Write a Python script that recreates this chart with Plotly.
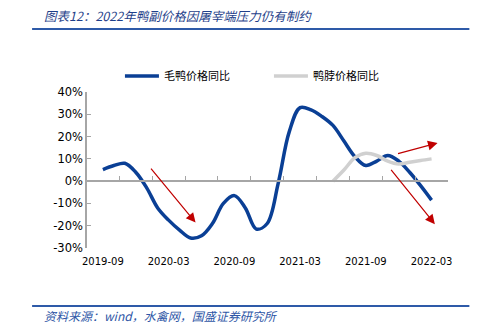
import plotly.graph_objects as go

# ---- data ----
months = ["2019-09","2019-10","2019-11","2019-12","2020-01","2020-02","2020-03","2020-04","2020-05","2020-06",
          "2020-07","2020-08","2020-09","2020-10","2020-11","2020-12","2021-01","2021-02","2021-03","2021-04",
          "2021-05","2021-06","2021-07","2021-08","2021-09","2021-10","2021-11","2021-12","2022-01","2022-02","2022-03"]
maoya = [5.2, 7.0, 8.0, 4.0, -3.0, -12.0, -17.5, -22.0, -25.5, -24.5,
         -19.0, -10.0, -6.5, -12.0, -21.5, -19.0, -1.0, 22.0, 33.0, 32.0,
         29.0, 25.0, 18.0, 11.0, 7.0, 9.0, 11.5, 9.0, 4.0, -2.0, -8.5]
yabo_months = ["2021-06","2021-07","2021-08","2021-09","2021-10","2021-11","2021-12","2022-01","2022-02","2022-03"]
yabo = [0.0, 5.0, 10.5, 12.5, 11.5, 9.0, 7.7, 8.5, 9.3, 10.0]
tick_labels = ["2019-09","2020-03","2020-09","2021-03","2021-09","2022-03"]
y_ticks = [40, 30, 20, 10, 0, -10, -20, -30]

idx = {m: i for i, m in enumerate(months)}
x_maoya = [idx[m] for m in months]
x_yabo = [idx[m] for m in yabo_months]
x_ticks = [idx[m] for m in tick_labels]

BLUE = "#0A3F95"
GRAY = "#D0D0D0"
RED = "#C00000"
AXIS = "#A6A6A6"
XR = [-1.45, 31.5]
YR = [-30, 40]

PW, PH, L, B = 361.6, 156.6, 87, 248.3
def px(xp): return (xp - L) / PW
def py(yp): return (B - yp) / PH

fig = go.Figure()
fig.add_trace(go.Scatter(x=x_maoya, y=maoya, mode="lines", name="毛鸭价格同比",
                         line=dict(color=BLUE, width=3.5, shape="spline", smoothing=1.0)))
fig.add_trace(go.Scatter(x=x_yabo, y=yabo, mode="lines", name="鸭脖价格同比",
                         line=dict(color=GRAY, width=3.5, shape="spline", smoothing=1.0)))

font_x = dict(family="DejaVu Sans, Verdana, sans-serif", size=10, color="#000000")
font_y = dict(family="DejaVu Sans, Verdana, sans-serif", size=11.5, color="#000000")

fig.update_layout(
    width=485, height=329,
    margin=dict(l=87, r=37, t=92, b=81),
    paper_bgcolor="white", plot_bgcolor="white",
    showlegend=True,
    legend=dict(orientation="h", x=px(120), y=py(75.7), xanchor="left", yanchor="middle",
                font=dict(family="Noto Sans CJK SC", size=11, color="#000000"),
                itemwidth=34, entrywidth=100, bgcolor="rgba(0,0,0,0)"),
    xaxis=dict(range=XR, tickvals=x_ticks, ticktext=tick_labels, showgrid=False,
               zeroline=False, showline=False, ticks="", tickfont=font_x, ticklabelstandoff=6),
    xaxis2=dict(range=XR, overlaying="x", anchor="free", position=30/70, side="bottom",
                showline=True, linecolor=AXIS, linewidth=1.5, showticklabels=False,
                tickmode="linear", tick0=-1.5, dtick=3, ticks="inside", ticklen=4,
                tickcolor=AXIS, tickwidth=1, showgrid=False, zeroline=False),
    yaxis=dict(range=YR, tickvals=y_ticks, ticktext=[f"{v}%" for v in y_ticks],
               showgrid=False, zeroline=False, showline=True, linecolor=AXIS, linewidth=1.5,
               ticks="inside", ticklen=4, tickcolor=AXIS, tickfont=font_y),
)
# dummy trace to activate xaxis2
fig.add_trace(go.Scatter(x=[XR[0]], y=[0], xaxis="x2", mode="markers",
                         marker=dict(opacity=0), showlegend=False, hoverinfo="skip"))

# red arrows (tail -> head in data coords)
arrows = [((4.28, 6.25), (8.46, -18.6)),
          ((26.8, 12.2), (30.55, 17.1)),
          ((26.2, 5.7), (30.3, -19.3))]
for (tx, ty), (hx, hy) in arrows:
    fig.add_annotation(x=hx, y=hy, ax=tx, ay=ty, xref="x", yref="y", axref="x", ayref="y",
                       showarrow=True, arrowhead=2, arrowsize=1.6, arrowwidth=1.2,
                       arrowcolor=RED, text="")

fig.add_annotation(text="图表12：2022年鸭副价格因屠宰端压力仍有制约", xref="paper", yref="paper",
                   x=px(42), y=py(15), xanchor="left", yanchor="middle", showarrow=False,
                   font=dict(family="Noto Sans CJK SC", size=12.5, color="#1F3F8A", style="italic"))
fig.add_annotation(text="资料来源：wind，水禽网，国盛证券研究所", xref="paper", yref="paper",
                   x=px(42), y=py(316), xanchor="left", yanchor="middle", showarrow=False,
                   font=dict(family="Noto Sans CJK SC", size=12, color="#2E56A6", style="italic"))
fig.add_shape(type="line", xref="paper", yref="paper", x0=px(32), x1=px(470), y0=py(28.5), y1=py(28.5),
              line=dict(color="#2E5AA8", width=2))
fig.add_shape(type="line", xref="paper", yref="paper", x0=px(32), x1=px(470), y0=py(306.5), y1=py(306.5),
              line=dict(color="#2E5AA8", width=2))

fig.write_html("out.html")
